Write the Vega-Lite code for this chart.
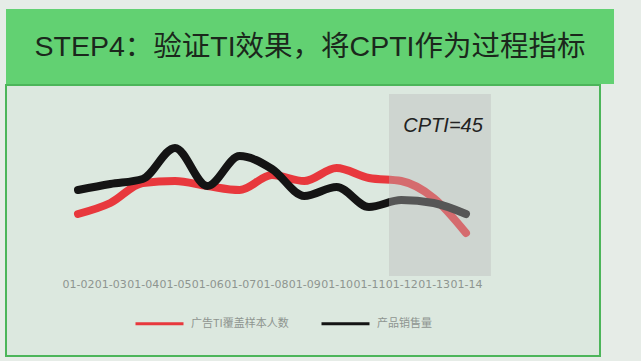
{
  "$schema": "https://vega.github.io/schema/vega-lite/v6.json",
  "background": "#e6ece7",
  "padding": {"left": 5, "top": 9, "right": 28, "bottom": 6},
  "spacing": 0,
  "config": {"view": {"stroke": null}},
  "vconcat": [
    {
      "width": 608,
      "height": 75,
      "view": {"fill": "#62d172", "stroke": null},
      "data": {"values": [{"title": "STEP4：验证TI效果，将CPTI作为过程指标"}]},
      "mark": {"type": "text", "font": "Liberation Sans, Noto Sans CJK SC", "fontSize": 28.5, "color": "#1b271c", "baseline": "middle", "align": "center"},
      "encoding": {"text": {"field": "title"}}
    },
    {
      "width": 594,
      "height": 271,
      "view": {"fill": "#dce8df", "stroke": "#4cb55a", "strokeWidth": 2},
      "data": {"values": [
        {"date": "2024-01-02T00:00:00", "series": "广告TI覆盖样本人数", "value": 142},
        {"date": "2024-01-03T00:00:00", "series": "广告TI覆盖样本人数", "value": 153},
        {"date": "2024-01-04T00:00:00", "series": "广告TI覆盖样本人数", "value": 173},
        {"date": "2024-01-05T00:00:00", "series": "广告TI覆盖样本人数", "value": 175},
        {"date": "2024-01-06T00:00:00", "series": "广告TI覆盖样本人数", "value": 170},
        {"date": "2024-01-07T00:00:00", "series": "广告TI覆盖样本人数", "value": 166},
        {"date": "2024-01-08T00:00:00", "series": "广告TI覆盖样本人数", "value": 181},
        {"date": "2024-01-09T00:00:00", "series": "广告TI覆盖样本人数", "value": 175},
        {"date": "2024-01-10T00:00:00", "series": "广告TI覆盖样本人数", "value": 188},
        {"date": "2024-01-11T00:00:00", "series": "广告TI覆盖样本人数", "value": 178},
        {"date": "2024-01-12T00:00:00", "series": "广告TI覆盖样本人数", "value": 175},
        {"date": "2024-01-13T00:00:00", "series": "广告TI覆盖样本人数", "value": 158},
        {"date": "2024-01-14T00:00:00", "series": "广告TI覆盖样本人数", "value": 123},
        {"date": "2024-01-02T00:00:00", "series": "产品销售量", "value": 166},
        {"date": "2024-01-03T00:00:00", "series": "产品销售量", "value": 172},
        {"date": "2024-01-04T00:00:00", "series": "产品销售量", "value": 177},
        {"date": "2024-01-05T00:00:00", "series": "产品销售量", "value": 208},
        {"date": "2024-01-06T00:00:00", "series": "产品销售量", "value": 170},
        {"date": "2024-01-07T00:00:00", "series": "产品销售量", "value": 200},
        {"date": "2024-01-08T00:00:00", "series": "产品销售量", "value": 187},
        {"date": "2024-01-09T00:00:00", "series": "产品销售量", "value": 160},
        {"date": "2024-01-10T00:00:00", "series": "产品销售量", "value": 169},
        {"date": "2024-01-11T00:00:00", "series": "产品销售量", "value": 149},
        {"date": "2024-01-12T00:00:00", "series": "产品销售量", "value": 156},
        {"date": "2024-01-13T00:00:00", "series": "产品销售量", "value": 153},
        {"date": "2024-01-14T00:00:00", "series": "产品销售量", "value": 142}
      ]},
      "layer": [
        {
          "transform": [{"filter": "datum.series === '广告TI覆盖样本人数'"}],
          "mark": {"type": "line", "strokeWidth": 8, "interpolate": "monotone", "strokeCap": "round"},
          "encoding": {
            "x": {
              "field": "date", "type": "temporal",
              "scale": {"domain": [{"year": 2023, "month": 12, "date": 30, "hours": 18, "minutes": 33}, {"year": 2024, "month": 1, "date": 18, "hours": 3, "minutes": 30}], "nice": false},
              "axis": {
                "orient": "bottom", "offset": -80, "labelPadding": 2, "domain": false, "ticks": false, "grid": false, "title": null,
                "format": "%m-%d", "labelFont": "DejaVu Sans", "labelFontSize": 11, "labelColor": "#8e9590",
                "labelOverlap": false, "labelFlush": false, "labelAngle": 0,
                "values": [
                  {"year": 2024, "month": 1, "date": 2}, {"year": 2024, "month": 1, "date": 3}, {"year": 2024, "month": 1, "date": 4},
                  {"year": 2024, "month": 1, "date": 5}, {"year": 2024, "month": 1, "date": 6}, {"year": 2024, "month": 1, "date": 7},
                  {"year": 2024, "month": 1, "date": 8}, {"year": 2024, "month": 1, "date": 9}, {"year": 2024, "month": 1, "date": 10},
                  {"year": 2024, "month": 1, "date": 11}, {"year": 2024, "month": 1, "date": 12}, {"year": 2024, "month": 1, "date": 13},
                  {"year": 2024, "month": 1, "date": 14}
                ]
              }
            },
            "y": {"field": "value", "type": "quantitative", "scale": {"domain": [0, 271], "nice": false, "zero": false}, "axis": null},
            "color": {
              "field": "series", "type": "nominal",
              "scale": {"domain": ["广告TI覆盖样本人数", "产品销售量"], "range": ["#e8383d", "#141414"]},
              "legend": {
                "orient": "none", "legendX": 128, "legendY": 289, "direction": "horizontal", "title": null,
                "symbolType": "stroke", "symbolSize": 2304, "symbolStrokeWidth": 3,
                "labelFont": "Noto Sans CJK SC", "labelFontSize": 11, "labelColor": "#8e9590", "labelOffset": 6, "columnPadding": 26
              }
            }
          }
        },
        {
          "transform": [{"filter": "datum.series === '产品销售量'"}],
          "mark": {"type": "line", "strokeWidth": 8, "interpolate": "monotone", "strokeCap": "round"},
          "encoding": {
            "x": {"field": "date", "type": "temporal"},
            "y": {"field": "value", "type": "quantitative"},
            "color": {"field": "series", "type": "nominal"}
          }
        },
        {
          "data": {"values": [{"region": "CPTI"}]},
          "mark": {"type": "rect", "color": "#b8b9b8", "opacity": 0.4},
          "encoding": {
            "x": {"datum": {"year": 2024, "month": 1, "date": 11, "hours": 14, "minutes": 53}, "type": "temporal"},
            "x2": {"datum": {"year": 2024, "month": 1, "date": 14, "hours": 18, "minutes": 30}},
            "y": {"datum": 262, "type": "quantitative"},
            "y2": {"datum": 80}
          }
        },
        {
          "data": {"values": [{"label": "CPTI=45"}]},
          "mark": {"type": "text", "font": "Liberation Sans", "fontStyle": "italic", "fontSize": 20, "color": "#222222", "align": "center", "baseline": "middle"},
          "encoding": {
            "x": {"datum": {"year": 2024, "month": 1, "date": 13, "hours": 7}, "type": "temporal"},
            "y": {"datum": 230, "type": "quantitative"},
            "text": {"field": "label"}
          }
        }
      ]
    }
  ]
}
